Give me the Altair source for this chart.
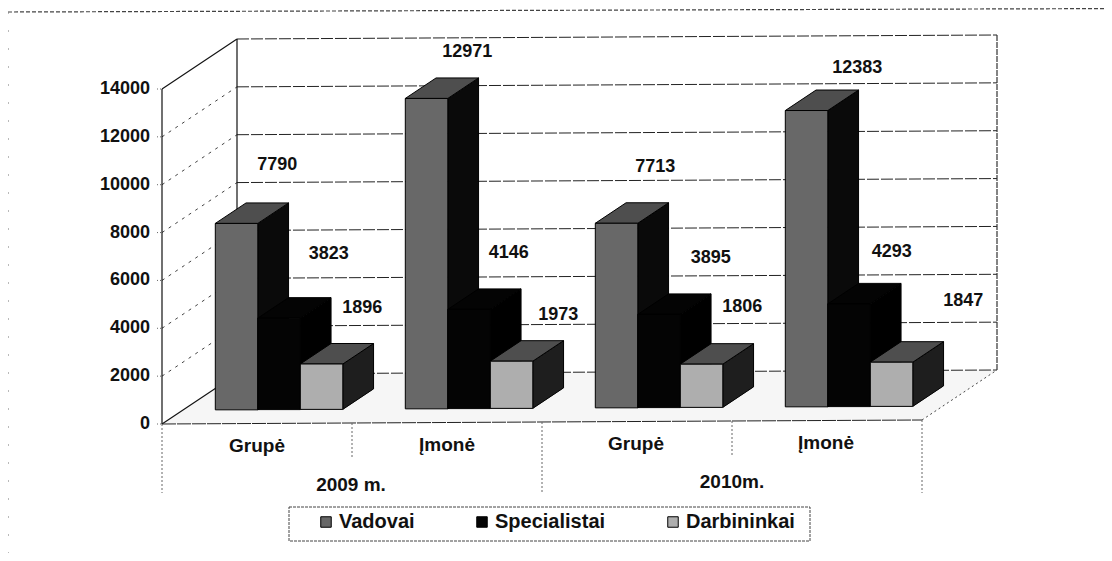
import altair as alt
import pandas as pd

# ---- data ----
groups = ["Grupė", "Įmonė", "Grupė", "Įmonė"]
years = ["2009 m.", "2010m."]
series = ["Vadovai", "Specialistai", "Darbininkai"]
vadovai = [7790, 12971, 7713, 12383]
specialistai = [3823, 4146, 3895, 4293]
darbininkai = [1896, 1973, 1806, 1847]
ticks = [0, 2000, 4000, 6000, 8000, 10000, 12000, 14000]

# ---- layout (pixels on the page) ----
FONT = "Liberation Sans"
W, H = 1096, 545
X0, CAT = 162.0, 190.0      # page x of category 0, pixels per category
Y0, PXV = 424.0, 335.0 / 14000   # page y of value 0, pixels per unit
TILT = 1.0                  # pixels the floor rises per category
DEPTH_X, DEPTH_Y = 75.0, 50.0
BAR_START, BAR_W = 0.17, 0.2237
D0, D1 = 0.28, 0.69
label_dx = [[62, 71, 62], [62, 61, 68], [60, 73, 62], [72, 64, 93]]
label_dy = [[-58, -64, -56], [-46, -56, -46], [-56, -56, -57], [-43, -52, -61]]
fronts = ["#686868", "#040404", "#aeaeae"]
tops = ["#4e4e4e", "#040404", "#4e4e4e"]
sides = ["#0a0a0a", "#000000", "#1e1e1e"]


def pt(c, v, d=0.0):
    """category position, value, depth -> data coordinates"""
    return c + d * DEPTH_X / CAT, v + (d * DEPTH_Y + c * TILT) / PXV


def px(x, y):
    """page pixels -> data coordinates"""
    return (x - X0) / CAT, (Y0 - y) / PXV


xs = alt.Scale(domain=[px(8, 0)[0], px(8 + W, 0)[0]], nice=False, zero=False)
ys = alt.Scale(domain=[px(0, 8 + H)[1], px(0, 8)[1]], nice=False, zero=False)
X = alt.X("x:Q", scale=xs, axis=None)
Y = alt.Y("y:Q", scale=ys, axis=None)


def seg(a, b):
    return {"x": a[0], "y": a[1], "x2": b[0], "y2": b[1]}


def rules(rows, **kw):
    return alt.Chart(pd.DataFrame(rows)).mark_rule(**kw).encode(
        x=X, y=Y, x2=alt.X2("x2:Q"), y2=alt.Y2("y2:Q"))


def texts(rows, **kw):
    base = dict(font=FONT, fontWeight="bold", fontSize=18, color="#111111", baseline="middle")
    base.update(kw)
    return alt.Chart(pd.DataFrame(rows)).mark_text(**base).encode(x=X, y=Y, text="t:N")


layers = []

# floor
floor = []
fl_a = pt(0, 0, 0)
floor.append({"x": fl_a[0], "y": fl_a[1], "y2": fl_a[1]})
xb = pt(0, 0, 1)
floor.append({"x": xb[0], "y": pt(xb[0], 0, 0)[1], "y2": xb[1]})
xf = pt(4, 0, 0)
floor.append({"x": xf[0], "y": xf[1], "y2": pt(xf[0] - DEPTH_X / CAT, 0, 1)[1]})
xe = pt(4, 0, 1)
floor.append({"x": xe[0], "y": xe[1], "y2": xe[1]})
layers.append(alt.Chart(pd.DataFrame(floor)).mark_area(color="#f6f6f6", opacity=1).encode(
    x=X, y=Y, y2=alt.Y2("y2:Q")))

# walls: grid lines
back_grid = [seg(pt(0, t, 1), pt(4, t, 1)) for t in ticks]
side_grid = [seg(pt(0, t, 0), pt(0, t, 1)) for t in ticks[1:-1]]
layers.append(rules(back_grid, color="#222222", strokeWidth=1, strokeDash=[12, 2]))
layers.append(rules(side_grid, color="#444444", strokeWidth=1, strokeDash=[3, 5]))
layers.append(rules([seg(pt(0, 0, 0), pt(0, 14000, 0)),
                     seg(pt(0, 0, 1), pt(0, 14000, 1)),
                     seg(pt(0, 0, 0), pt(0, 0, 1)),
                     seg(pt(0, 14000, 0), pt(0, 14000, 1))],
                    color="#111111", strokeWidth=1.2))
layers.append(rules([seg(pt(4, 0, 1), pt(4, 14000, 1))], color="#333333", strokeWidth=1.2, strokeDash=[6, 1]))
layers.append(rules([seg(pt(4, 0, 0), pt(4, 0, 1))], color="#444444", strokeWidth=1, strokeDash=[2, 3]))
layers.append(rules([seg(pt(0, 0, 0), pt(4, 0, 0))], color="#222222", strokeWidth=1, strokeDash=[14, 1]))

# tick marks and category separators
layers.append(rules([seg(px(157, Y0 - t * PXV), pt(0, t, 0)) for t in ticks],
                    color="#666666", strokeWidth=1, strokeDash=[1, 2]))
separators = []
for i in range(5):
    top = pt(i, 0, 0)
    low = px(X0 + i * CAT, 457 if i % 2 else 493)
    separators.append(seg(top, low))
layers.append(rules(separators, color="#666666", strokeWidth=1, strokeDash=[2, 2]))

# 3D bars, drawn from the back series to the front one
all_values = [vadovai, specialistai, darbininkai]
for s, name in enumerate(series):
    side_rows, top_rows, front_rows = [], [], []
    for i, v in enumerate(all_values[s]):
        c0 = i + BAR_START + s * BAR_W
        c1 = c0 + BAR_W
        a, b = pt(c0, 0, D0), pt(c1, 0, D0)
        base_y = a[1]
        h = v
        front_rows.append({"x": a[0], "x2": b[0], "y": base_y, "y2": base_y + h, "series": name})
        dx = (D1 - D0) * DEPTH_X / CAT
        dy = (D1 - D0) * DEPTH_Y / PXV
        side_rows.append({"x": b[0], "y": base_y, "y2": base_y + h, "bar": i})
        side_rows.append({"x": b[0] + dx, "y": base_y + dy, "y2": base_y + h + dy, "bar": i})
        top_rows.append({"x": a[0], "x2": b[0], "y": base_y + h, "bar": i})
        top_rows.append({"x": a[0] + dx, "x2": b[0] + dx, "y": base_y + h + dy, "bar": i})
    layers.append(alt.Chart(pd.DataFrame(side_rows)).mark_area(
        color=sides[s], stroke="#000000", strokeWidth=1, opacity=1).encode(
        x=X, y=Y, y2=alt.Y2("y2:Q"), detail="bar:N"))
    layers.append(alt.Chart(pd.DataFrame(top_rows)).mark_area(
        orient="horizontal", color=tops[s], stroke="#000000", strokeWidth=1, opacity=1).encode(
        y=Y, x=X, x2=alt.X2("x2:Q"), detail="bar:N"))
    layers.append(alt.Chart(pd.DataFrame(front_rows)).mark_rect(
        stroke="#000000", strokeWidth=1).encode(
        x=X, x2=alt.X2("x2:Q"), y=Y, y2=alt.Y2("y2:Q"),
        color=alt.Color("series:N", scale=alt.Scale(domain=series, range=fronts),
                        legend=alt.Legend(orient="none", legendX=316 - 8, legendY=504,
                                          direction="horizontal", columns=3, title=None,
                                          symbolType="square", symbolSize=110,
                                          symbolStrokeColor="#000000", symbolStrokeWidth=1,
                                          symbolOpacity=1,
                                          columnPadding=57, labelOffset=3, padding=0,
                                          labelFont=FONT, labelFontSize=20,
                                          labelFontWeight="bold", labelColor="#111111"))))

# value labels
val_rows = []
for i in range(4):
    for s in range(3):
        v = all_values[s][i]
        c0 = i + BAR_START + s * BAR_W
        a = pt(c0, v, D0)
        val_rows.append({"x": a[0] + label_dx[i][s] / CAT,
                         "y": a[1] - label_dy[i][s] / PXV, "t": str(v)})
layers.append(texts(val_rows, align="center"))

# value axis labels
layers.append(texts([{"x": px(150, 0)[0], "y": t, "t": str(t)} for t in ticks], align="right"))

# category labels
cat_pos = [(257, 446), (447, 445), (636, 444), (826, 443)]
layers.append(texts([{"x": px(*p)[0], "y": px(*p)[1], "t": g} for p, g in zip(cat_pos, groups)],
                    align="center", fontSize=19))
year_pos = [(351, 485), (732, 482)]
layers.append(texts([{"x": px(*p)[0], "y": px(*p)[1], "t": g} for p, g in zip(year_pos, years)],
                    align="center", fontSize=19))

# legend frame and chart frame
lb_a, lb_b = px(289, 507), px(810, 541)
layers.append(alt.Chart(pd.DataFrame([{"x": lb_a[0], "x2": lb_b[0], "y": lb_a[1], "y2": lb_b[1]}]))
              .mark_rect(fill="#ffffff", fillOpacity=0, stroke="#444444", strokeWidth=1, strokeDash=[3, 1])
              .encode(x=X, x2=alt.X2("x2:Q"), y=Y, y2=alt.Y2("y2:Q")))
layers.append(rules([seg(px(8, 12), px(1104, 8.6))], color="#444444", strokeWidth=1.2, strokeDash=[4, 2]))
layers.append(rules([seg(px(8, 12), px(8, 553))], color="#777777", strokeWidth=1, strokeDash=[2, 16]))

chart = alt.layer(*layers).properties(
    width=W, height=H, padding=0,
    autosize=alt.AutoSizeParams(type="none", contains="padding"),
    background="#ffffff",
).configure_view(stroke=None)

chart.save("out.html", embed_options={"renderer": "svg", "actions": False})
